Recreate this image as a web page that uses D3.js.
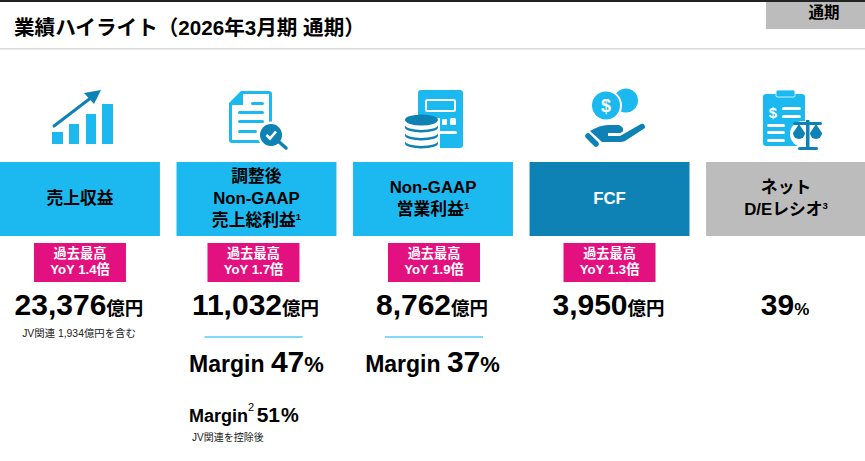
<!DOCTYPE html>
<html lang="ja">
<head>
<meta charset="utf-8">
<script src="https://cdn.jsdelivr.net/npm/d3@7"></script>
<style>
  html, body { margin: 0; padding: 0; background: #fff; overflow: hidden; }
  text { font-family: "Liberation Sans", "Noto Sans CJK JP", sans-serif; font-weight: 700; fill: #000; }
</style>
</head>
<body>
<div id="chart"></div>
<script>
// values
const categories = ["売上収益", "調整後 Non-GAAP 売上総利益", "Non-GAAP 営業利益", "FCF", "ネット D/Eレシオ"];
const labelLines = [["売上収益"], ["調整後", "Non-GAAP", "売上総利益"], ["Non-GAAP", "営業利益"], ["FCF"], ["ネット", "D/Eレシオ"]];
const labelNotes = ["", "1", "1", "", "3"];
const values = ["23,376", "11,032", "8,762", "3,950", "39"];
const units = ["億円", "億円", "億円", "億円", "%"];
const yoy = ["1.4", "1.7", "1.9", "1.3", null];
const margins = [null, "47", "37", null, null];

const width = 865, height = 461;
const blue = "#1cb9f0", darkBlue = "#0e81b5", grey = "#bcbcbc", pink = "#e3107f";
const boxFill = [blue, blue, blue, darkBlue, grey];

const svg = d3.select("#chart").append("svg")
    .attr("width", width)
    .attr("height", height)
    .style("display", "block");

const x = d3.scaleBand().domain(categories).range([0, 866]).paddingInner(0.094);
const cx = i => x(categories[i]) + x.bandwidth() / 2;

// Header
svg.append("rect").attr("width", width).attr("height", 2).attr("fill", "#222");
svg.append("rect").attr("y", 48).attr("width", width).attr("height", 1.5).attr("fill", "#d9d9d9");
svg.append("rect").attr("x", 766).attr("y", 2).attr("width", 99).attr("height", 27).attr("fill", grey);
svg.append("text").attr("x", 824).attr("y", 18).attr("text-anchor", "middle")
    .attr("font-size", 15.5).text("通期");
svg.append("text").attr("x", 14).attr("y", 35).attr("font-size", 20.6)
    .text("業績ハイライト（2026年3月期 通期）");

// Coloured boxes
svg.append("g").selectAll("rect")
    .data(categories)
    .enter().append("rect")
    .attr("x", d => x(d))
    .attr("y", 162)
    .attr("width", x.bandwidth())
    .attr("height", 74)
    .attr("fill", (d, i) => boxFill[i]);

// Box labels
labelLines.forEach((lines, i) => {
    const top = 204 - (lines.length - 1) * 11;
    lines.forEach((line, j) => {
        const t = svg.append("text")
            .attr("x", cx(i))
            .attr("y", top + j * 22)
            .attr("text-anchor", "middle")
            .attr("font-size", 16.8)
            .style("fill", i === 3 ? "#fff" : "#000")
            .text(line);
        if (j === lines.length - 1 && labelNotes[i]) {
            t.append("tspan").attr("font-size", 9.5).attr("dy", -6).text(labelNotes[i]);
        }
    });
});

// Record high badges
yoy.forEach((v, i) => {
    if (v === null) return;
    const c = i === 1 ? cx(i) - 3 : cx(i) + (i === 2 ? 1 : 0);
    svg.append("rect").attr("x", c - 46).attr("y", 243).attr("width", 92).attr("height", 39).attr("fill", pink);
    svg.append("text").attr("x", c).attr("y", 258).attr("text-anchor", "middle")
        .attr("font-size", 13.2).style("fill", "#fff").text("過去最高");
    svg.append("text").attr("x", c).attr("y", 274).attr("text-anchor", "middle")
        .attr("font-size", 13.2).style("fill", "#fff").text(`YoY ${v}倍`);
});

// Headline values
values.forEach((v, i) => {
    const t = svg.append("text")
        .attr("x", cx(i) - 1)
        .attr("y", 315)
        .attr("text-anchor", "middle")
        .attr("font-size", 30)
        .text(v);
    t.append("tspan").attr("font-size", i === 4 ? 17 : 18.5).text(units[i]);
});

svg.append("text").attr("x", 79).attr("y", 337).attr("text-anchor", "middle")
    .attr("font-size", 10.4).style("font-weight", 400).style("fill", "#222").text("JV関連 1,934億円を含む");

// Margin rows
margins.forEach((m, i) => {
    if (m === null) return;
    svg.append("rect").attr("x", cx(i) - 49 - (i === 1 ? 3 : 0) + (i === 2 ? 1 : 0)).attr("y", 336)
        .attr("width", 98).attr("height", 2).attr("fill", "#80d9f6");
    const t = svg.append("text")
        .attr("x", cx(i) + (i === 1 ? 0 : -0.5))
        .attr("y", 372)
        .attr("text-anchor", "middle")
        .attr("font-size", 23)
        .text("Margin ");
    t.append("tspan").attr("font-size", 30).text(m);
    t.append("tspan").attr("font-size", 22).text("%");
});

const m2 = svg.append("text").attr("x", 189).attr("y", 422).attr("font-size", 18).text("Margin");
m2.append("tspan").attr("font-size", 11).attr("dy", -11).style("font-weight", 400).text("2");
m2.append("tspan").attr("font-size", 21).attr("dy", 11).attr("dx", 2.5).text("51");
m2.append("tspan").attr("font-size", 20).attr("dx", 1).text("%");
svg.append("text").attr("x", 192).attr("y", 441).attr("font-size", 10)
    .style("font-weight", 400).style("fill", "#222").text("JV関連を控除後");

// Icons
const icons = svg.append("g");

// revenue: rising bars and arrow
const ic1 = icons.append("g");
[[52, 132, 11, 12], [69, 124, 10, 20], [86, 114, 10, 30], [102, 104, 11, 40]].forEach(b => {
    ic1.append("rect").attr("x", b[0]).attr("y", b[1]).attr("width", b[2]).attr("height", b[3]).attr("fill", blue);
});
ic1.append("line").attr("x1", 54).attr("y1", 126).attr("x2", 92).attr("y2", 97)
    .attr("stroke", darkBlue).attr("stroke-width", 3).attr("stroke-linecap", "round");
ic1.append("path").attr("d", "M101,90 L84,93 L94,104 Z").attr("fill", darkBlue);

// gross profit: document with magnifier
const ic2 = icons.append("g");
ic2.append("path")
    .attr("d", "M241,91 H269 Q272,91 272,94 V140 Q272,143 269,143 H232 Q229,143 229,140 V103 Z")
    .attr("fill", blue);
ic2.append("path").attr("d", "M243,94 H269 V140 H232 V105 H243 Z").attr("fill", "#fff");
[[251, 102, 13], [238, 111, 26], [238, 120, 26], [238, 130, 19]].forEach(l => {
    ic2.append("rect").attr("x", l[0]).attr("y", l[1]).attr("width", l[2]).attr("height", 3).attr("rx", 1.5).attr("fill", blue);
});
ic2.append("circle").attr("cx", 271).attr("cy", 135).attr("r", 13.5).attr("fill", "#fff");
ic2.append("line").attr("x1", 278).attr("y1", 141).attr("x2", 286).attr("y2", 148)
    .attr("stroke", darkBlue).attr("stroke-width", 3.5).attr("stroke-linecap", "round");
ic2.append("circle").attr("cx", 271).attr("cy", 135).attr("r", 11).attr("fill", darkBlue);
ic2.append("path").attr("d", "M266.5,135 L270,138.5 L276,131.5").attr("fill", "none").attr("stroke", "#fff").attr("stroke-width", 2.6);

// operating profit: calculator and coins
const ic3 = icons.append("g");
ic3.append("rect").attr("x", 418).attr("y", 90).attr("width", 45).attr("height", 58).attr("rx", 3).attr("fill", blue);
ic3.append("rect").attr("x", 426).attr("y", 100).attr("width", 29).attr("height", 11).attr("rx", 1.5).attr("fill", "none").attr("stroke", "#fff").attr("stroke-width", 2);
ic3.append("rect").attr("x", 442).attr("y", 119).attr("width", 5).attr("height", 6).attr("rx", 1).attr("fill", "#fff");
ic3.append("rect").attr("x", 450).attr("y", 118).attr("width", 6).attr("height", 7).attr("rx", 1.5).attr("fill", "#fff");
ic3.append("rect").attr("x", 437).attr("y", 131).attr("width", 20).attr("height", 3).attr("rx", 1.5).attr("fill", "#fff");
ic3.append("path").attr("d", "M403,118 H440 V149 H403 Z").attr("fill", "#fff");
[141, 133, 125].forEach(y => {
    ic3.append("path")
        .attr("d", `M405,${y} A16.5,5 0 0 0 438,${y} V${y + 2.5} A16.5,5 0 0 1 405,${y + 2.5} Z`)
        .attr("fill", darkBlue);
});
ic3.append("ellipse").attr("cx", 421.5).attr("cy", 120).attr("rx", 16.5).attr("ry", 5.5).attr("fill", darkBlue);

// FCF: coins over a hand
const ic4 = icons.append("g");
ic4.append("circle").attr("cx", 626).attr("cy", 100.5).attr("r", 12).attr("fill", blue);
ic4.append("circle").attr("cx", 606).attr("cy", 105.5).attr("r", 16).attr("fill", "#fff");
ic4.append("circle").attr("cx", 606).attr("cy", 105.5).attr("r", 14).attr("fill", blue);
ic4.append("text").attr("x", 606).attr("y", 112).attr("text-anchor", "middle")
    .attr("font-size", 18).style("fill", "#fff").text("$");
ic4.append("path")
    .attr("d", "M590,131 Q600,125 608,125 H619 Q624,127 623,131 Q622,133 618,133 H608 V136 H620 L641,124 Q645,123 645,128 L625,141 Q623,142 620,142 H602 Z")
    .attr("fill", darkBlue);
ic4.append("line").attr("x1", 588).attr("y1", 136).attr("x2", 596).attr("y2", 144)
    .attr("stroke", darkBlue).attr("stroke-width", 5.5).attr("stroke-linecap", "round");

// net D/E: clipboard and scales
const ic5 = icons.append("g");
ic5.append("rect").attr("x", 763).attr("y", 94).attr("width", 42).attr("height", 52).attr("rx", 3).attr("fill", blue);
ic5.append("rect").attr("x", 776).attr("y", 90).attr("width", 19).attr("height", 7).attr("rx", 1.5).attr("fill", blue).attr("stroke", "#fff").attr("stroke-width", 0.8);
ic5.append("text").attr("x", 773).attr("y", 118).attr("text-anchor", "middle").attr("font-size", 15).style("fill", "#fff").text("$");
[[782, 107, 19], [782, 115, 19], [767, 124, 18], [767, 131, 18], [767, 139, 18]].forEach(l => {
    ic5.append("rect").attr("x", l[0]).attr("y", l[1]).attr("width", l[2]).attr("height", 3).attr("rx", 1.5).attr("fill", "#fff");
});
ic5.append("circle").attr("cx", 803).attr("cy", 134).attr("r", 13).attr("fill", "#fff");
ic5.append("rect").attr("x", 793).attr("y", 122).attr("width", 29).attr("height", 3).attr("rx", 1.5).attr("fill", darkBlue);
ic5.append("rect").attr("x", 806).attr("y", 120).attr("width", 3.5).attr("height", 28).attr("fill", darkBlue);
ic5.append("rect").attr("x", 798).attr("y", 147).attr("width", 20).attr("height", 3).attr("rx", 1.5).attr("fill", darkBlue);
ic5.append("path").attr("d", "M793,133 L799,124 L805,133 A6,6 0 0 1 793,133 Z").attr("fill", darkBlue);
ic5.append("path").attr("d", "M810,133 L816,124 L822,133 A6,6 0 0 1 810,133 Z").attr("fill", darkBlue);
</script>
</body>
</html>
